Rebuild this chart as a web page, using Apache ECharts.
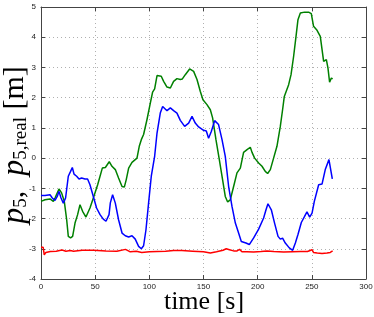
<!DOCTYPE html>
<html><head><meta charset="utf-8">
<script src="https://cdn.jsdelivr.net/npm/echarts@6/dist/echarts.min.js"></script>
<style>html,body{margin:0;padding:0;background:#fff}#c{width:374px;height:317px}</style>
</head><body><div id="c"></div>
<script>
const xTicks = [0, 50, 100, 150, 200, 250, 300];
const yTicks = [-4, -3, -2, -1, 0, 1, 2, 3, 4, 5];

const greenT = [0,3.7,8.3,11.4,12.9,16.6,19,21.5,23.7,25.2,27.3,29.2,31.4,33.8,36,38.4,41.5,45.2,48.3,52.3,56.6,59.4,63,65.5,68.6,71.6,74.8,76.9,78.7,80.9,84,88.6,90.7,92.6,94.7,97.8,100.9,103,104.9,107.1,111,113.2,116.3,119.4,122.4,125.5,128.6,130.5,133.2,137.2,140.9,144,147,149.5,153.2,156.3,158.4,161.5,164.6,167.6,170.1,172.3,174.7,177.8,180.9,184,187,190.2,193.2,194.8,197.2,200.9,204,207,209.2,211.7,214.7,217.8,220.9,223,224.6,226.1,228.6,230.8,233.2,235.4,237.2,239.4,243.3,247,249.5,251.6,254.8,257.8,260.9,263.4,264.9,266.4,268,269.2];
const greenV = [-1.43,-1.38,-1.35,-1.43,-1.32,-1.02,-1.15,-1.43,-2.04,-2.59,-2.64,-2.59,-2.15,-1.87,-1.54,-1.76,-1.95,-1.65,-1.32,-0.88,-0.33,-0.31,-0.12,-0.27,-0.38,-0.66,-0.94,-0.96,-0.71,-0.33,-0.14,0.0,0.39,0.61,0.78,1.27,1.82,2.18,2.29,2.73,2.71,2.54,2.35,2.32,2.54,2.63,2.6,2.62,2.76,2.95,2.87,2.6,2.21,1.93,1.77,1.6,1.33,0.61,-0.05,-0.71,-1.27,-1.45,-1.38,-0.94,-0.49,-0.33,0.19,0.28,0.36,0.19,0.0,-0.16,-0.27,-0.44,-0.51,-0.38,0.0,0.39,1.05,1.6,2.04,2.05,2.43,2.76,3.37,4.03,4.58,4.8,4.83,4.83,4.78,4.36,4.23,4.03,3.2,3.26,2.98,2.51,2.65,2.62];

const blueT = [0,3.7,8.3,10.4,12.9,15,16.6,18.5,20.6,22.7,25.2,27.3,28.9,30.5,32.9,35.1,37.5,40.6,43,45.2,48.3,51.3,54.5,57.5,60,62.8,64,66.1,68.6,71.6,74.8,77.8,80.9,84,87,90.1,92.6,94.7,96.9,99.3,101.8,104.9,107.1,110.1,112.3,114.1,116.3,119.4,122.4,125.5,128.6,132.6,136.3,139.4,142.4,145.5,150.1,152.6,154.7,157.2,160.3,163.9,167.1,170.1,173.2,176.3,179.4,182.4,184.9,186.1,189.2,192.3,196.3,200.9,205.5,207.7,209.5,212.6,215.6,218.8,220.9,223,225.5,229.2,232.3,234.8,237.2,240.3,243.3,245.5,248,250.2,252.3,254,256.3,259.4,262.4,265.8,268.9];
const blueV = [-1.24,-1.24,-1.21,-1.32,-1.4,-1.27,-1.1,-1.32,-1.49,-1.32,-0.6,-0.44,-0.31,-0.53,-0.6,-0.69,-0.66,-0.69,-0.69,-0.88,-1.27,-1.65,-1.87,-2.02,-2.09,-1.87,-1.48,-1.21,-1.49,-2.04,-2.48,-2.57,-2.61,-2.57,-2.68,-2.92,-3.0,-2.9,-2.37,-1.49,-0.6,0.06,0.83,1.49,1.71,1.73,1.57,1.66,1.57,1.49,1.25,1.05,1.16,1.38,1.16,1.03,0.92,0.9,0.66,0.88,1.24,1.11,0.61,0.06,-0.94,-1.6,-2.15,-2.48,-2.76,-2.7,-2.81,-2.86,-2.64,-2.35,-1.98,-1.71,-1.51,-1.71,-2.15,-2.59,-2.68,-2.65,-2.81,-2.97,-3.05,-2.81,-2.53,-2.13,-1.93,-1.78,-1.95,-1.82,-1.43,-1.43,-0.88,-0.86,-0.38,-0.05,-0.69];

const redT = [0,2,3,4.5,8.6,14,19.4,23,27,28,30,38,48.6,60,70,78,79.4,82.4,88,93,100,107,115,122.4,130,140,150,156.3,162,168,171,174,177.8,181,183.3,185.5,190,196.3,203,208.6,215,224,232,239.4,246,250.2,251.5,255,259.4,264,267,269.2];
const redV = [-2.95,-2.95,-3.2,-3.12,-3.09,-3.08,-3.04,-3.08,-3.06,-3.02,-3.08,-3.05,-3.05,-3.07,-3.08,-3.02,-3.0,-3.1,-3.08,-3.12,-3.1,-3.09,-3.08,-3.06,-3.06,-3.08,-3.1,-3.14,-3.1,-3.05,-3.0,-3.03,-3.07,-3.07,-3.02,-3.1,-3.1,-3.11,-3.09,-3.07,-3.09,-3.11,-3.1,-3.09,-3.09,-3.03,-3.12,-3.14,-3.16,-3.14,-3.12,-3.07];

const xName = 'time [s]';
const yName = '{i|p}{s|5}{n|,  }{i|p}{s|5,real}{n| [m]}';

const pairs = (t, v) => t.map((x, i) => [x, v[i]]);

const chart = echarts.init(document.getElementById('c'), null, {renderer: 'canvas'});
const axisCol = '#444';
const serif = 'Liberation Serif, DejaVu Serif, serif';
const tickLabel = {color: '#222', fontSize: 8, fontFamily: 'Liberation Sans, Arial, sans-serif'};
const baseX = {
  type: 'value', min: xTicks[0], max: xTicks[xTicks.length - 1], interval: 50,
  axisLine: {show: true, onZero: false, lineStyle: {color: axisCol, width: 1}},
  axisTick: {show: true, inside: true, length: 4, lineStyle: {color: axisCol}},
};
const baseY = {
  type: 'value', min: yTicks[0], max: yTicks[yTicks.length - 1], interval: 1,
  axisLine: {show: true, onZero: false, lineStyle: {color: axisCol, width: 1}},
  axisTick: {show: true, inside: true, length: 4, lineStyle: {color: axisCol}},
};
chart.setOption({
  animation: false,
  backgroundColor: '#fff',
  grid: {left: 41, right: 8, top: 7, bottom: 38, containLabel: false, outerBoundsMode: 'none'},
  graphic: [
    {type: 'text', x: 204, y: 302, z: 10,
     style: {text: xName, font: '26px ' + serif, fill: '#000', align: 'center', verticalAlign: 'middle'}},
    {type: 'text', x: 15, y: 145, rotation: Math.PI / 2, z: 10,
     style: {text: yName, align: 'center', verticalAlign: 'middle', fill: '#000',
       rich: {
         i: {fontFamily: serif, fontStyle: 'italic', fontSize: 32, fill: '#000'},
         s: {fontFamily: serif, fontSize: 19, fill: '#000', padding: [13, 0, 0, 0]},
         n: {fontFamily: serif, fontSize: 30, fill: '#000'}
       }}}
  ],
  xAxis: [
    Object.assign({}, baseX, {
      position: 'bottom',
      axisLabel: Object.assign({margin: 4}, tickLabel),
      splitLine: {show: true, lineStyle: {color: '#b0b0b0', type: [1, 3], width: 1}}
    }),
    Object.assign({}, baseX, {position: 'top', axisLabel: {show: false}, splitLine: {show: false}})
  ],
  yAxis: [
    Object.assign({}, baseY, {
      position: 'left',
      axisLabel: Object.assign({margin: 5}, tickLabel),
      splitLine: {show: true, lineStyle: {color: '#b0b0b0', type: [1, 3], width: 1}}
    }),
    Object.assign({}, baseY, {position: 'right', axisLabel: {show: false}, splitLine: {show: false}})
  ],
  series: [
    {type: 'line', data: pairs(greenT, greenV), showSymbol: false, lineStyle: {color: '#008000', width: 1.5}, z: 3},
    {type: 'line', data: pairs(blueT, blueV), showSymbol: false, lineStyle: {color: '#0000ff', width: 1.5}, z: 4},
    {type: 'line', data: pairs(redT, redV), showSymbol: false, lineStyle: {color: '#ff0000', width: 1.5}, z: 2}
  ]
});
</script></body></html>
